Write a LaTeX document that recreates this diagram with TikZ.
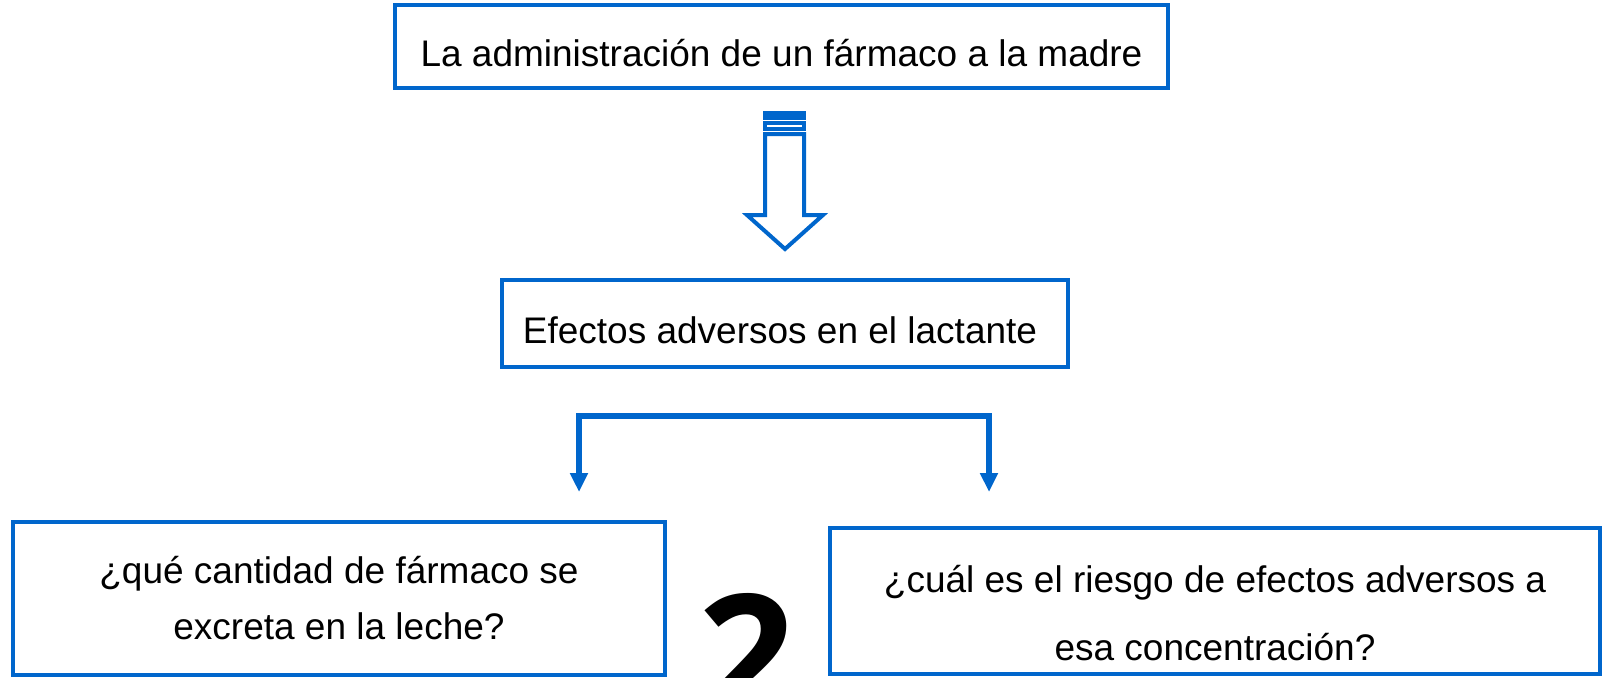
\documentclass[tikz,border=0pt]{standalone}
\usepackage{fontspec}
\setmainfont{Liberation Sans}
\newfontfamily\digitfont{Open Sans}
\usetikzlibrary{arrows.meta}
\definecolor{boxblue}{RGB}{0,102,204}
\begin{document}
\begin{tikzpicture}[x=0.5pt, y=-0.5pt,
  font=\fontsize{18.5}{22}\selectfont,
  box/.style={draw=boxblue, line width=1.75pt, inner sep=0pt, align=center},
  hollow/.style={draw=boxblue, line width=2pt, line join=miter, fill=white},
  split/.style={draw=boxblue, line width=3pt, line join=miter,
                {Triangle[width=8.5pt,length=9.5pt]}-{Triangle[width=8.5pt,length=9.5pt]}}
]
  \clip (0,0) rectangle (1604,677);
  \node[box, minimum width=386.5pt, minimum height=41.5pt] (dose) at (781.5,46.5)
        {\rule{0pt}{20pt}La administración de un fármaco a la madre};
  \node[box, minimum width=283pt, minimum height=43.5pt] (effect) at (785,323.5)
        {\rule{0pt}{20.5pt}Efectos adversos en el lactante\hspace{5pt}};
  \node[box, minimum width=326pt, minimum height=76.5pt] (amount) at (339,598.5)
        {¿qué cantidad de fármaco se\\[6pt]excreta en la leche?};
  \node[box, minimum width=385pt, minimum height=73pt] (risk) at (1215,601)
        {\rule{0pt}{26pt}¿cuál es el riesgo de efectos adversos a\\[12pt]esa concentración?};
  % flecha hueca
  \fill[boxblue] (763,111) rectangle (806,120);
  \draw[hollow] (765,123) rectangle (804,129);
  \draw[hollow] (765,134) -- (804,134) -- (804,215) -- (823,215) -- (785,249)
        -- (747,215) -- (765,215) -- cycle;
  % bifurcacion
  \coordinate (fork) at (784,416);
  \coordinate (lefttip) at (579,492);
  \coordinate (righttip) at (989,492);
  \draw[split] (lefttip) |- (fork) -| (righttip);
  \node[anchor=north, inner sep=0pt,
        font=\digitfont\bfseries\fontsize{85}{85}\selectfont] (mark) at (747,593) {2};
\end{tikzpicture}
\end{document}
